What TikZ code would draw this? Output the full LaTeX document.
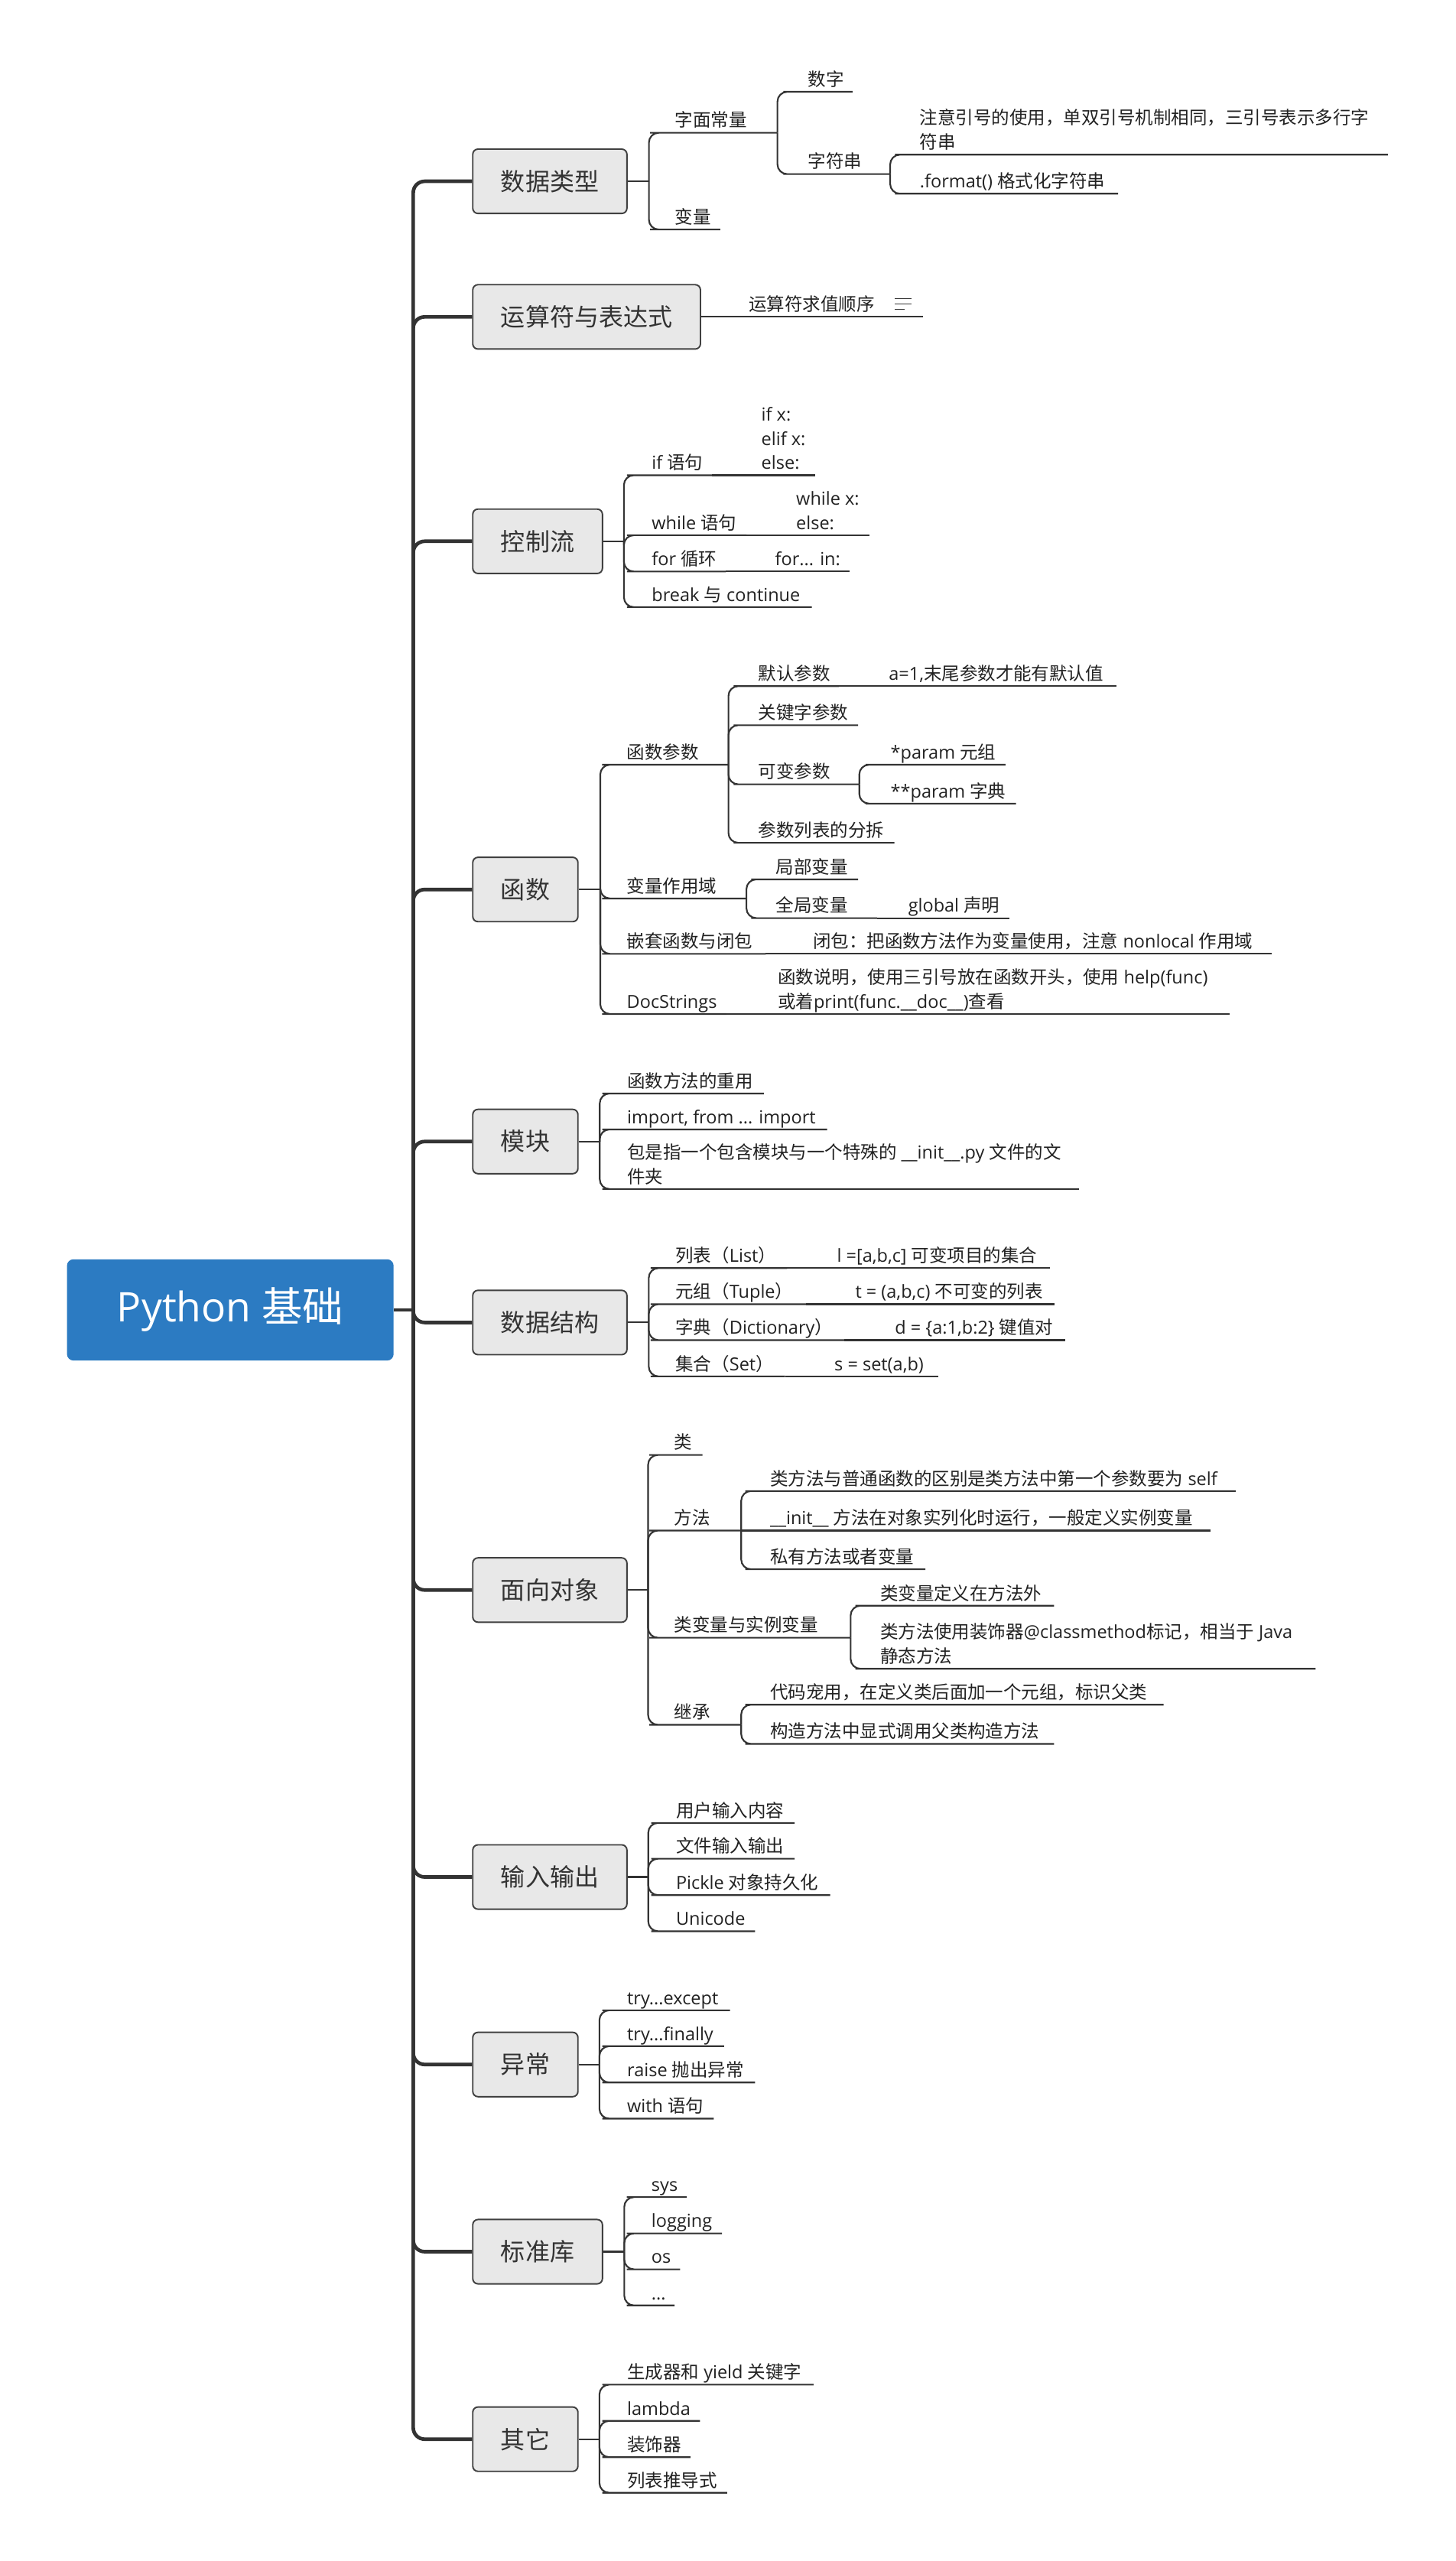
\documentclass[tikz,border=0pt]{standalone}
\usepackage{fontspec}
\setmainfont{Open Sans}
\newfontfamily\cjkfont{Noto Sans CJK SC}
\XeTeXinterchartokenstate=1
\newXeTeXintercharclass\cjkcls
\newcount\cjkc
\cjkc="4E00
\loop\XeTeXcharclass\cjkc=\cjkcls\relax\ifnum\cjkc<"9FFF\advance\cjkc by 1\repeat
\cjkc="3000
\loop\XeTeXcharclass\cjkc=\cjkcls\relax\ifnum\cjkc<"303F\advance\cjkc by 1\repeat
\cjkc="FF00
\loop\XeTeXcharclass\cjkc=\cjkcls\relax\ifnum\cjkc<"FFEF\advance\cjkc by 1\repeat
\XeTeXinterchartoks 0 \cjkcls = {\cjkfont}
\XeTeXinterchartoks 4095 \cjkcls = {\cjkfont}
\XeTeXinterchartoks \cjkcls 0 = {\normalfont}
\XeTeXinterchartoks \cjkcls 4095 = {\normalfont}
\definecolor{linec}{HTML}{333333}
\definecolor{boxborder}{HTML}{404040}
\definecolor{boxfill}{HTML}{E8E8E8}
\definecolor{topictext}{HTML}{333333}
\definecolor{labelc}{HTML}{222222}
\definecolor{rootblue}{HTML}{2C7BC2}
\tikzset{
  lbl/.style={anchor=base west, inner sep=0pt, text=labelc, font=\fontsize{11}{14.8}\selectfont},
  topic/.style={draw=boxborder, fill=boxfill, rounded corners=3.2pt, line width=0.9pt, text=topictext,
    font=\fontsize{15}{18}\selectfont, minimum height=39.4pt, inner xsep=17.2pt, inner ysep=0pt, anchor=west},
  rootbox/.style={fill=rootblue, rounded corners=4pt, text=white, font=\fontsize{25}{30}\selectfont,
    minimum width=200pt, minimum height=62pt, inner sep=0pt},
  trunk/.style={draw=linec, line width=2.2pt, rounded corners=7pt},
  branch/.style={draw=linec, line width=1pt, rounded corners=6pt},
  icon/.style={draw=linec, line width=0.7pt},
}
% \leaf[path op]{name}{fork}{text left x}{underline y}{underline end x}{text}
\newcommand\leaf[7][|-]{%
  \node[lbl] (#2) at ({#4},{#5-3.6}) {#7};
  \coordinate (#2-w) at ({#4-9},{#5});
  \coordinate (#2-e) at ({#6},{#5});
  \draw[branch] (#3) #1 (#2-w) -- (#2-e);
}
\newcommand\mleaf[7][|-]{%
  \node[lbl, align=left] (#2) at ({#4},{#5-3.6}) {#7};
  \coordinate (#2-w) at ({#4-9},{#5});
  \coordinate (#2-e) at ({#6},{#5});
  \draw[branch] (#3) #1 (#2-w) -- (#2-e);
}
\begin{document}
\begin{tikzpicture}[x=1pt,y=-1pt]
\fill[white] (0,0) rectangle (891,1568);
\useasboundingbox (0,0) rectangle (891,1568);

% root and trunk
\node[rootbox] (root) at (141,802) {Python 基础};
\coordinate (hub) at (253,802);
\draw[trunk] (root.east) -- (hub);

\node[topic] (dtype) at (289,111) {数据类型};
\node[topic] (ops) at (289,194) {运算符与表达式};
\node[topic] (ctrl) at (289,331.4) {控制流};
\node[topic] (func) at (289,544.6) {函数};
\node[topic] (mod) at (289,698.9) {模块};
\node[topic] (ds) at (289,809.7) {数据结构};
\node[topic] (oop) at (289,973.5) {面向对象};
\node[topic] (io) at (289,1149.2) {输入输出};
\node[topic] (exc) at (289,1264) {异常};
\node[topic] (std) at (289,1378.6) {标准库};
\node[topic] (oth) at (289,1493.4) {其它};

\foreach \b in {dtype,ops,ctrl,func,mod,ds,oop,io,exc,std,oth}
  \draw[trunk] (hub) |- (\b.west);

% 数据类型
\path (dtype.east) ++(13,0) coordinate (f1);
\draw[branch] (dtype.east) -- (f1);
\leaf{lit}{f1}{413}{81.3}{476}{字面常量}
\leaf{var}{f1}{413}{140.5}{441}{变量}
\leaf{num}{lit-e}{494.6}{56.2}{522}{数字}
\leaf{str}{lit-e}{494.6}{106.6}{545}{字符串}
\mleaf{strq}{str-e}{563}{94.7}{849.7}{注意引号的使用，单双引号机制相同，三引号表示多行字\\符串}
\leaf{strf}{str-e}{563}{118.6}{684.5}{.format() 格式化字符串}

% 运算符与表达式
\leaf[--]{opord}{ops.east}{458.2}{194}{565.3}{运算符求值顺序}
\draw[icon] (548,182.9) -- (557.9,182.9) (548,186.2) -- (557.9,186.2) (548,189.3) -- (553.7,189.3);

% 控制流
\path (ctrl.east) ++(12.7,0) coordinate (f3);
\draw[branch] (ctrl.east) -- (f3);
\leaf{ifs}{f3}{398.9}{291}{436}{if 语句}
\mleaf[--]{ifc}{ifs-e}{466}{291}{499.2}{if x:\\elif x:\\else:}
\leaf{whs}{f3}{398.9}{327.7}{457}{while 语句}
\mleaf[--]{whc}{whs-e}{487.3}{327.7}{532.2}{while x:\\else:}
\leaf{fors}{f3}{398.9}{349.9}{444.5}{for 循环}
\leaf[--]{forc}{fors-e}{474.4}{349.9}{520.2}{for... in:}
\leaf{brk}{f3}{398.9}{371.7}{497}{break 与 continue}

% 函数
\path (func.east) ++(13.2,0) coordinate (f4);
\draw[branch] (func.east) -- (f4);
\leaf{fp}{f4}{383.6}{468.2}{446}{函数参数}
\leaf{fpd}{fp-e}{464.2}{420.1}{513.6}{默认参数}
\leaf[--]{fpdc}{fpd-e}{544}{420.1}{683.5}{a=1,末尾参数才能有默认值}
\leaf{fpk}{fp-e}{464.2}{444}{525.4}{关键字参数}
\leaf{fpv}{fp-e}{464.2}{480.2}{526.1}{可变参数}
\leaf{fpva}{fpv-e}{545.1}{468.2}{615.6}{*param 元组}
\leaf{fpvb}{fpv-e}{545.1}{492}{622.1}{**param 字典}
\leaf{fps}{fp-e}{464.2}{516}{547.6}{参数列表的分拆}
\leaf{fs}{f4}{383.6}{550.1}{457}{变量作用域}
\leaf{fsl}{fs-e}{474.9}{538.4}{525.4}{局部变量}
\leaf{fsg}{fs-e}{474.9}{562.1}{537}{全局变量}
\leaf[--]{fsgc}{fsg-e}{555.9}{562.1}{618.2}{global 声明}
\leaf{fn}{f4}{383.6}{584}{468.8}{嵌套函数与闭包}
\leaf[--]{fnc}{fn-e}{497.5}{584}{778.7}{闭包：把函数方法作为变量使用，注意 nonlocal 作用域}
\leaf{fd}{f4}{383.6}{620.8}{444.8}{DocStrings}
\mleaf[--]{fdc}{fd-e}{476}{620.8}{752.9}{函数说明，使用三引号放在函数开头，使用 help(func)\\或着print(func.\_\_doc\_\_)查看}

% 模块
\path (mod.east) ++(12.9,0) coordinate (f5);
\draw[branch] (mod.east) -- (f5);
\leaf{ma}{f5}{383.8}{669.5}{467.7}{函数方法的重用}
\leaf{mb}{f5}{383.8}{691.5}{506.4}{import, from ... import}
\mleaf{mc}{f5}{383.8}{728}{660.6}{包是指一个包含模块与一个特殊的 \_\_init\_\_.py 文件的文\\件夹}

% 数据结构
\path (ds.east) ++(12.9,0) coordinate (f6);
\draw[branch] (ds.east) -- (f6);
\leaf{da}{f6}{413.4}{776.4}{481.9}{列表（List）}
\leaf[--]{dac}{da-e}{512.3}{776.4}{642.6}{l =[a,b,c] 可变项目的集合}
\leaf{db}{f6}{413.4}{798.5}{493.4}{元组（Tuple）}
\leaf[--]{dbc}{db-e}{523.5}{798.5}{645.8}{t = (a,b,c) 不可变的列表}
\leaf{dc}{f6}{413.4}{820.5}{516.8}{字典（Dictionary）}
\leaf[--]{dcc}{dc-e}{547.8}{820.5}{652}{d = \{a:1,b:2\} 键值对}
\leaf{dd}{f6}{413.4}{842.7}{480.6}{集合（Set）}
\leaf[--]{ddc}{dd-e}{510.7}{842.7}{574.6}{s = set(a,b)}

% 面向对象
\path (oop.east) ++(12.5,0) coordinate (f7);
\draw[branch] (oop.east) -- (f7);
\leaf{oa}{f7}{412.6}{890.8}{430.1}{类}
\leaf{ob}{f7}{412.6}{937.1}{453.8}{方法}
\leaf{oba}{ob-e}{471.3}{912.9}{756.5}{类方法与普通函数的区别是类方法中第一个参数要为 self}
\leaf[--]{obb}{ob-e}{471.3}{937.1}{741}{\_\_init\_\_ 方法在对象实列化时运行，一般定义实例变量}
\leaf{obc}{ob-e}{471.3}{960.8}{566.6}{私有方法或者变量}
\leaf{oc}{f7}{412.6}{1002.7}{520.8}{类变量与实例变量}
\leaf{oca}{oc-e}{538.7}{983.1}{645.4}{类变量定义在方法外}
\mleaf{ocb}{oc-e}{538.7}{1021.7}{805.5}{类方法使用装饰器@classmethod标记，相当于 Java\\静态方法}
\leaf{od}{f7}{412.6}{1056}{453.8}{继承}
\leaf{oda}{od-e}{471.3}{1043.7}{712.4}{代码宠用，在定义类后面加一个元组，标识父类}
\leaf{odb}{od-e}{471.3}{1067.7}{645.4}{构造方法中显式调用父类构造方法}

% 输入输出
\path (io.east) ++(12.6,0) coordinate (f8);
\draw[branch] (io.east) -- (f8);
\leaf{ia}{f8}{413.7}{1116.1}{486.5}{用户输入内容}
\leaf{ib}{f8}{413.7}{1138}{486.5}{文件输入输出}
\leaf{ic}{f8}{413.7}{1160.3}{508.3}{Pickle 对象持久化}
\leaf{id}{f8}{413.7}{1182.4}{462.3}{Unicode}

% 异常
\path (exc.east) ++(12.7,0) coordinate (f9);
\draw[branch] (exc.east) -- (f9);
\leaf{ea}{f9}{383.8}{1230.8}{446.9}{try...except}
\leaf{eb}{f9}{383.8}{1252.8}{443.3}{try...finally}
\leaf{ec}{f9}{383.8}{1275}{462.3}{raise 抛出异常}
\leaf{ed}{f9}{383.8}{1297.1}{437}{with 语句}

% 标准库
\path (std.east) ++(12.9,0) coordinate (f10);
\draw[branch] (std.east) -- (f10);
\leaf{sa}{f10}{398.7}{1345.2}{420.5}{sys}
\leaf{sb}{f10}{398.7}{1367.4}{442}{logging}
\leaf{sc}{f10}{398.7}{1389.4}{416.4}{os}
\leaf{sd}{f10}{398.7}{1411.5}{413}{...}

% 其它
\path (oth.east) ++(12.7,0) coordinate (f11);
\draw[branch] (oth.east) -- (f11);
\leaf{ta}{f11}{383.8}{1460}{498.1}{生成器和 yield 关键字}
\leaf{tb}{f11}{383.8}{1482.2}{428.6}{lambda}
\leaf{tc}{f11}{383.8}{1504.4}{422.7}{装饰器}
\leaf{td}{f11}{383.8}{1526.2}{445.2}{列表推导式}
\end{tikzpicture}
\end{document}
